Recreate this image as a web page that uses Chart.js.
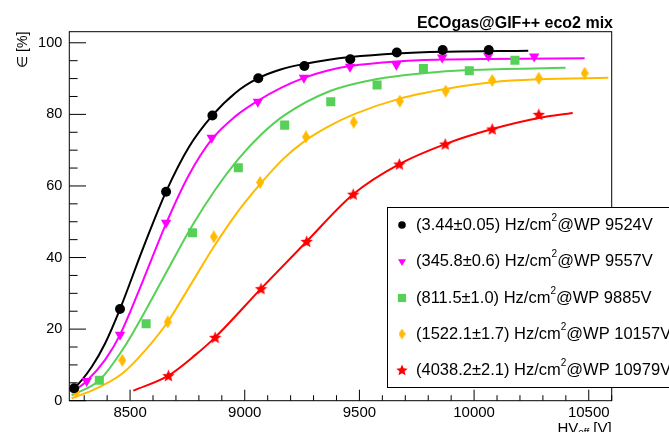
<!DOCTYPE html>
<html>
<head>
<meta charset="utf-8">
<script src="https://cdn.jsdelivr.net/npm/chart.js@4.4.1/dist/chart.umd.min.js"></script>
<style>
  html, body { margin: 0; padding: 0; background: #ffffff; }
  #wrap { width: 669px; height: 432px; position: relative; }
</style>
</head>
<body>
<div id="wrap"><canvas id="c" width="669" height="432"></canvas></div>
<script>
// ---------------- data ----------------
const chartTitle = "ECOgas@GIF++ eco2 mix";
const xTickLabels = [8500, 9000, 9500, 10000, 10500];
const yTickLabels = [0, 20, 40, 60, 80, 100];

const seriesRates = ["3.44±0.05", "345.8±0.6", "811.5±1.0", "1522.1±1.7", "4038.2±2.1"];
const seriesWP    = ["9524V", "9557V", "9885V", "10157V", "10979V"];

// measured points
const blackX   = [8256, 8456, 8657, 8859, 9059, 9260, 9460, 9663, 9863, 10064];
const blackY   = [3.5, 25.6, 58.4, 79.7, 90.1, 93.5, 95.4, 97.3, 98.0, 98.0];
const magentaX = [8311, 8456, 8657, 8856, 9057, 9258, 9459, 9661, 9861, 10062, 10262];
const magentaY = [5.5, 18.4, 49.7, 73.5, 83.5, 90.2, 93.3, 93.9, 95.9, 96.3, 96.2];
const greenX   = [8366, 8570, 8772, 8972, 9174, 9375, 9577, 9779, 9979, 10178];
const greenY   = [5.7, 21.5, 46.9, 65.1, 77.0, 83.5, 88.2, 92.8, 92.2, 95.1];
const orangeX  = [8265, 8466, 8664, 8865, 9067, 9267, 9475, 9676, 9876, 10079, 10282, 10482];
const orangeY  = [2.4, 11.3, 22.0, 45.8, 61.0, 73.7, 77.8, 83.7, 86.5, 89.5, 90.1, 91.5];
const redX     = [8667, 8871, 9071, 9270, 9473, 9674, 9874, 10079, 10282];
const redY     = [7.0, 17.7, 31.3, 44.5, 57.7, 66.1, 71.7, 75.9, 80.0];

// fitted curves
const blackFitX   = [8238, 8256, 8333, 8391, 8456, 8556, 8657, 8758, 8859, 8959, 9059, 9160, 9260, 9360, 9460, 9663, 9863, 10236];
const blackFitY   = [2.8, 3.5, 9.5, 16.0, 25.6, 42.5, 58.4, 71.0, 79.7, 86.0, 90.1, 92.6, 94.1, 95.2, 96.0, 97.0, 97.5, 97.8];
const magentaFitX = [8245, 8311, 8391, 8456, 8556, 8657, 8756, 8856, 8956, 9057, 9158, 9258, 9358, 9459, 9661, 9861, 10062, 10482];
const magentaFitY = [2.2, 5.5, 11.4, 18.4, 33.5, 49.5, 63.0, 73.0, 79.3, 83.8, 87.4, 90.2, 92.2, 93.5, 94.8, 95.3, 95.5, 95.7];
const greenFitX   = [8245, 8366, 8470, 8570, 8672, 8772, 8872, 8972, 9074, 9174, 9375, 9577, 9779, 9979, 10399];
const greenFitY   = [1.5, 5.7, 14.5, 25.5, 37.5, 49.0, 59.0, 67.5, 74.5, 79.8, 86.6, 89.9, 91.5, 92.4, 93.0];
const orangeFitX  = [8245, 8340, 8466, 8565, 8664, 8765, 8865, 8966, 9067, 9167, 9267, 9370, 9475, 9676, 9876, 10079, 10282, 10585];
const orangeFitY  = [0.7, 3.0, 7.6, 14.0, 22.0, 32.5, 43.0, 52.5, 60.5, 67.5, 72.8, 76.8, 80.0, 84.4, 87.1, 89.0, 89.8, 90.2];
const redFitX     = [8514, 8667, 8785, 8871, 9071, 9270, 9473, 9674, 9874, 10079, 10282, 10430];
const redFitY     = [2.8, 7.0, 12.8, 17.7, 31.3, 44.5, 57.7, 66.1, 71.7, 75.9, 79.0, 80.4];

// ---------------- styling ----------------
const FONT = "'Liberation Sans', Arial, Helvetica, sans-serif";
const COLORS = ["#000000", "#ff00ff", "#57d057", "#ffba00", "#ff0000"];

function makeDiamond(color, w, h) {
  const c = document.createElement('canvas');
  c.width = w; c.height = h;
  const g = c.getContext('2d');
  g.fillStyle = color;
  g.beginPath();
  g.moveTo(w / 2, 0); g.lineTo(w, h / 2); g.lineTo(w / 2, h); g.lineTo(0, h / 2);
  g.closePath(); g.fill();
  return c;
}
function makeStar(color, s) {
  const c = document.createElement('canvas');
  c.width = s; c.height = s;
  const g = c.getContext('2d');
  g.fillStyle = color;
  g.beginPath();
  const cx = s / 2, cy = s / 2 + 0.5, R = s / 2, r = R * 0.45;
  for (let i = 0; i < 10; i++) {
    const a = -Math.PI / 2 + i * Math.PI / 5;
    const rad = (i % 2 === 0) ? R : r;
    const px = cx + rad * Math.cos(a), py = cy + rad * Math.sin(a);
    if (i === 0) g.moveTo(px, py); else g.lineTo(px, py);
  }
  g.closePath(); g.fill();
  return c;
}

const markerStyles = [
  { pointStyle: 'circle', radius: 5, rotation: 0 },
  { pointStyle: 'triangle', radius: 6, rotation: 180 },
  { pointStyle: 'rect', radius: 6.4, rotation: 0 },
  { pointStyle: makeDiamond(COLORS[3], 8, 13), radius: 6, rotation: 0 },
  { pointStyle: makeStar(COLORS[4], 13), radius: 6, rotation: 0 }
];
const legendMarkers = [
  { pointStyle: 'circle', radius: 3.8, rotation: 0 },
  { pointStyle: 'triangle', radius: 4.6, rotation: 180 },
  { pointStyle: 'rect', radius: 5.8, rotation: 0 },
  { pointStyle: makeDiamond(COLORS[3], 7, 11), radius: 5, rotation: 0 },
  { pointStyle: makeStar(COLORS[4], 12), radius: 5, rotation: 0 }
];

const pts = (xs, ys) => xs.map((x, i) => ({ x: x, y: ys[i] }));
const pointSets = [pts(blackX, blackY), pts(magentaX, magentaY), pts(greenX, greenY), pts(orangeX, orangeY), pts(redX, redY)];
const fitSets = [pts(blackFitX, blackFitY), pts(magentaFitX, magentaFitY), pts(greenFitX, greenFitY), pts(orangeFitX, orangeFitY), pts(redFitX, redFitY)];

const datasets = [];
fitSets.forEach((d, i) => {
  datasets.push({
    label: 'fit' + i, data: d, showLine: true, borderColor: COLORS[i], borderWidth: 2,
    pointRadius: 0, pointHoverRadius: 0, fill: false, cubicInterpolationMode: 'monotone', order: 2
  });
});
pointSets.forEach((d, i) => {
  datasets.push({
    label: '(' + seriesRates[i] + ') Hz/cm2@WP ' + seriesWP[i], data: d, showLine: false,
    backgroundColor: COLORS[i], borderColor: COLORS[i], borderWidth: 0,
    pointStyle: markerStyles[i].pointStyle, pointRadius: markerStyles[i].radius,
    pointRotation: markerStyles[i].rotation, order: 1
  });
});

// ---------------- frame, ticks, titles, legend ----------------
const decor = {
  id: 'decor',
  afterDraw(chart) {
    const ctx = chart.ctx, a = chart.chartArea;
    const xs = chart.scales.x, ys = chart.scales.y;
    ctx.save();
    // frame
    ctx.strokeStyle = '#000'; ctx.lineWidth = 1;
    ctx.strokeRect(a.left, a.top, a.right - a.left, a.bottom - a.top);
    // x ticks (inside)
    ctx.beginPath();
    for (let v = 8300; v <= xs.max; v += 100) {
      const px = xs.getPixelForValue(v);
      const major = xTickLabels.indexOf(v) >= 0;
      ctx.moveTo(px, a.bottom); ctx.lineTo(px, a.bottom - (major ? 11 : 5.5));
    }
    // y ticks (inside)
    for (let v = 0; v <= ys.max; v += 5) {
      const py = ys.getPixelForValue(v);
      const major = yTickLabels.indexOf(v) >= 0;
      ctx.moveTo(a.left, py); ctx.lineTo(a.left + (major ? 16.7 : 8.3), py);
    }
    ctx.stroke();

    // title
    ctx.fillStyle = '#000';
    ctx.font = 'bold 16px ' + FONT;
    ctx.textAlign = 'right'; ctx.textBaseline = 'alphabetic';
    ctx.fillText(chartTitle, 613, 27.5);

    // x axis title HV_eff [V]
    ctx.font = '15px ' + FONT;
    const tail = ' [V]';
    ctx.textAlign = 'left';
    const wTail = ctx.measureText(tail).width;
    ctx.font = '10px ' + FONT;
    const wSub = ctx.measureText('eff').width;
    ctx.font = '15px ' + FONT;
    const wHV = ctx.measureText('HV').width;
    const xr = a.right;
    const base = 432.5;
    ctx.fillText(tail, xr - wTail, base);
    ctx.font = '10px ' + FONT;
    ctx.fillText('eff', xr - wTail - wSub, base + 3);
    ctx.font = '15px ' + FONT;
    ctx.fillText('HV', xr - wTail - wSub - wHV, base);

    // y axis title
    ctx.save();
    ctx.translate(26.5, a.top);
    ctx.rotate(-Math.PI / 2);
    ctx.font = '14px ' + FONT;
    ctx.textAlign = 'right'; ctx.textBaseline = 'alphabetic';
    ctx.fillText('∈ [%]', 0, 0);
    ctx.restore();

    // legend
    const L = { left: 387.5, top: 207.5, right: 700, bottom: 387.5 };
    ctx.fillStyle = '#fff';
    ctx.fillRect(L.left, L.top, L.right - L.left, L.bottom - L.top);
    ctx.strokeStyle = '#000'; ctx.lineWidth = 1;
    ctx.strokeRect(L.left, L.top, L.right - L.left, L.bottom - L.top);
    const rowY = [225, 261.5, 298, 334, 370];
    seriesRates.forEach((rate, i) => {
      const y = rowY[i];
      const ms = legendMarkers[i];
      ctx.fillStyle = COLORS[i]; ctx.strokeStyle = COLORS[i];
      Chart.helpers.drawPoint(ctx, {
        pointStyle: ms.pointStyle, rotation: ms.rotation, radius: ms.radius, borderWidth: 0
      }, 402, y);
      ctx.fillStyle = '#000';
      ctx.textAlign = 'left'; ctx.textBaseline = 'middle';
      let x = 416;
      const s1 = '(' + rate + ') Hz/cm';
      ctx.font = '16.5px ' + FONT;
      ctx.fillText(s1, x, y);
      x += ctx.measureText(s1).width;
      ctx.font = '10px ' + FONT;
      ctx.fillText('2', x, y - 7);
      x += ctx.measureText('2').width;
      ctx.font = '16.5px ' + FONT;
      ctx.fillText('@WP ' + seriesWP[i], x, y);
    });
    ctx.restore();
  }
};

new Chart(document.getElementById('c'), {
  type: 'scatter',
  data: { datasets: datasets },
  options: {
    responsive: false,
    animation: false,
    devicePixelRatio: 1,
    events: [],
    layout: { padding: { left: 0, right: 57.3, top: 31.7, bottom: 0 } },
    plugins: { legend: { display: false }, tooltip: { enabled: false }, title: { display: false } },
    scales: {
      x: {
        type: 'linear', min: 8235, max: 10600,
        grid: { display: false, drawTicks: false },
        border: { display: false },
        afterFit: s => { s.height = 31.3; },
        afterBuildTicks: s => { s.ticks = xTickLabels.map(v => ({ value: v })); },
        ticks: { padding: 3.5, color: '#000', font: { family: FONT, size: 15 }, maxRotation: 0, autoSkip: false, callback: v => String(v) }
      },
      y: {
        type: 'linear', min: 0, max: 103.1,
        grid: { display: false, drawTicks: false },
        border: { display: false },
        afterFit: s => { s.width = 69.3; },
        afterBuildTicks: s => { s.ticks = yTickLabels.map(v => ({ value: v })); },
        ticks: { padding: 7, color: '#000', font: { family: FONT, size: 14.5 }, autoSkip: false, callback: v => String(v) }
      }
    }
  },
  plugins: [decor]
});
</script>
</body>
</html>
